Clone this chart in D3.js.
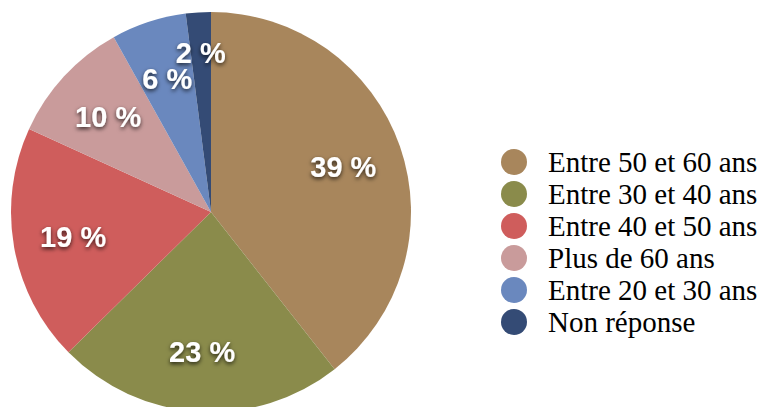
<!DOCTYPE html>
<html lang="fr">
<head>
    <meta charset="UTF-8">
    <title>Répartition par âge</title>
    <script src="https://d3js.org/d3.v7.min.js"></script>
    <style>
        body {
            margin: 0;
            padding: 0;
            background-color: #ffffff;
        }
        .slice-label {
            font-family: "Liberation Sans", Arial, sans-serif;
            font-weight: bold;
            font-size: 29px;
            fill: #ffffff;
        }
        .legend-label {
            font-family: "Liberation Serif", "Times New Roman", serif;
            font-size: 29px;
            fill: #000000;
        }
    </style>
</head>
<body>
    <div id="chart"></div>

    <script>
        // data, clockwise from 12 o'clock
        const categories = ["Entre 50 et 60 ans", "Entre 30 et 40 ans", "Entre 40 et 50 ans",
                            "Plus de 60 ans", "Entre 20 et 30 ans", "Non réponse"];
        const values = [39, 23, 19, 10, 6, 2];
        const colors = ["#a8865c", "#8a8b4b", "#cf5d5c", "#c99b9b", "#6a88be", "#344b75"];

        const width = 763, height = 407;
        const cx = 211, cy = 212, radius = 200;

        const svg = d3.select("#chart")
            .append("svg")
            .attr("width", width)
            .attr("height", height);

        const defs = svg.append("defs");
        defs.append("filter")
            .attr("id", "shadow")
            .attr("x", "-20%").attr("y", "-20%")
            .attr("width", "140%").attr("height", "160%")
            .append("feDropShadow")
            .attr("dx", 0)
            .attr("dy", 2)
            .attr("stdDeviation", 2)
            .attr("flood-color", "#000")
            .attr("flood-opacity", 0.75);

        const color = d3.scaleOrdinal().domain(categories).range(colors);

        const pie = d3.pie()
            .value(d => d.value)
            .sort(null);

        const data = categories.map((c, i) => ({ name: c, value: values[i] }));
        const arcs = pie(data);

        const arc = d3.arc().innerRadius(0).outerRadius(radius);
        // small slices get their label pushed a bit further out
        const labelArc = d => {
            const r = d.data.value < 5 ? radius * 0.8 : radius * 0.7;
            return d3.arc().innerRadius(r).outerRadius(r).centroid(d);
        };

        const g = svg.append("g")
            .attr("transform", `translate(${cx},${cy})`);

        g.selectAll("path")
            .data(arcs)
            .enter().append("path")
            .attr("d", arc)
            .attr("fill", d => color(d.data.name));

        g.selectAll("text")
            .data(arcs)
            .enter().append("text")
            .attr("class", "slice-label")
            .attr("transform", d => `translate(${labelArc(d)})`)
            .attr("text-anchor", "middle")
            .attr("dy", "0.36em")
            .attr("filter", "url(#shadow)")
            .text(d => d.data.value + " %");

        // legend
        const legendY = d3.scalePoint()
            .domain(categories)
            .range([162, 322]);

        const legend = svg.append("g")
            .selectAll("g")
            .data(categories)
            .enter().append("g")
            .attr("transform", d => `translate(0,${legendY(d)})`);

        legend.append("circle")
            .attr("cx", 514)
            .attr("cy", 0)
            .attr("r", 13)
            .attr("fill", d => color(d));

        legend.append("text")
            .attr("class", "legend-label")
            .attr("x", 548)
            .attr("y", 0)
            .attr("dy", "0.34em")
            .text(d => d);
    </script>
</body>
</html>
